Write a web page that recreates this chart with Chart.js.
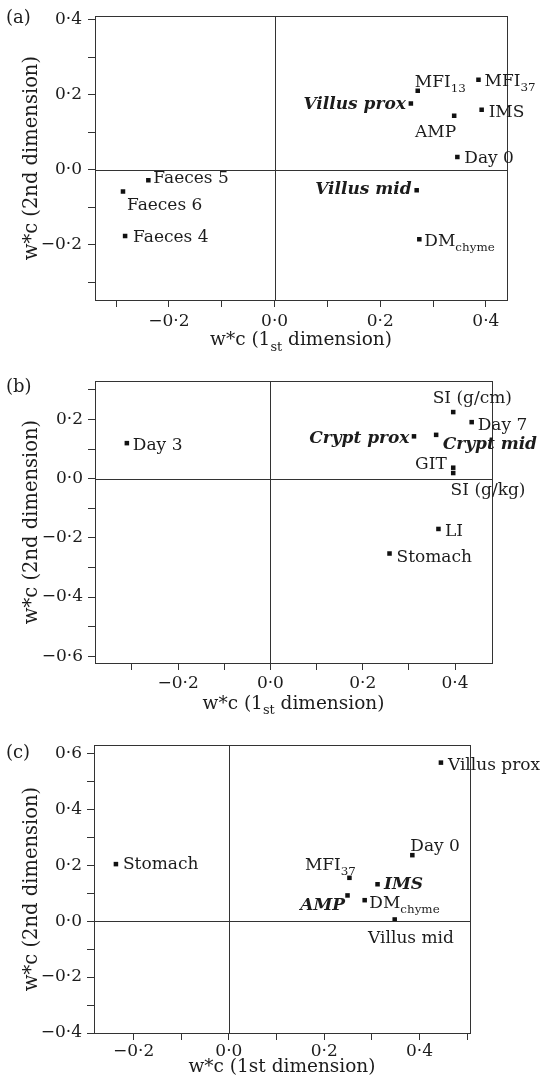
<!DOCTYPE html>
<html>
<head>
<meta charset="utf-8">
<script src="https://cdn.jsdelivr.net/npm/chart.js@4"></script>
<style>
body { margin: 0; background: #fff; }
#wrap { position: relative; width: 555px; height: 1080px; }
canvas { position: absolute; left: 0; }
</style>
</head>
<body>
<div id="wrap">
  <canvas id="panelA" width="555" height="360" style="top:0px"></canvas>
  <canvas id="panelB" width="555" height="360" style="top:360px"></canvas>
  <canvas id="panelC" width="555" height="360" style="top:720px"></canvas>
</div>
<script>
// Correspondence analysis plots, three panels

// Panel (a)
const aNames = ['MFI_{13}', 'MFI_{37}', 'Villus prox', 'IMS', 'AMP', 'Day 0', 'Villus mid', 'DM_{chyme}', 'Faeces 5', 'Faeces 6', 'Faeces 4'];
const aX = [0.271, 0.386, 0.258, 0.392, 0.340, 0.346, 0.269, 0.274, -0.239, -0.287, -0.283];
const aY = [0.211, 0.240, 0.177, 0.160, 0.144, 0.034, -0.055, -0.186, -0.028, -0.058, -0.177];
const aXTicks = [-0.3, -0.2, -0.1, 0, 0.1, 0.2, 0.3, 0.4];
const aXTickLabels = ['', '\u22120\u00b72', '', '0\u00b70', '', '0\u00b72', '', '0\u00b74'];
const aYTicks = [-0.3, -0.2, -0.1, 0, 0.1, 0.2, 0.3, 0.4];
const aYTickLabels = ['', '\u22120\u00b72', '', '0\u00b70', '', '0\u00b72', '', '0\u00b74'];

// Panel (b)
const bNames = ['Day 3', 'SI (g/cm)', 'Day 7', 'Crypt prox', 'Crypt mid', 'GIT', 'SI (g/kg)', 'LI', 'Stomach'];
const bX = [-0.311, 0.396, 0.436, 0.311, 0.359, 0.396, 0.396, 0.364, 0.258];
const bY = [0.120, 0.225, 0.191, 0.143, 0.148, 0.037, 0.019, -0.170, -0.253];
const bXTicks = [-0.3, -0.2, -0.1, 0, 0.1, 0.2, 0.3, 0.4];
const bXTickLabels = ['', '\u22120\u00b72', '', '0\u00b70', '', '0\u00b72', '', '0\u00b74'];
const bYTicks = [-0.6, -0.5, -0.4, -0.3, -0.2, -0.1, 0, 0.1, 0.2, 0.3];
const bYTickLabels = ['\u22120\u00b76', '', '\u22120\u00b74', '', '\u22120\u00b72', '', '0\u00b70', '', '0\u00b72', ''];

// Panel (c)
const cNames = ['Villus prox', 'Stomach', 'Day 0', 'MFI_{37}', 'IMS', 'AMP', 'DM_{chyme}', 'Villus mid'];
const cX = [0.445, -0.237, 0.385, 0.253, 0.312, 0.249, 0.285, 0.348];
const cY = [0.567, 0.204, 0.236, 0.155, 0.132, 0.092, 0.075, 0.006];
const cXTicks = [-0.2, -0.1, 0, 0.1, 0.2, 0.3, 0.4, 0.5];
const cXTickLabels = ['\u22120\u00b72', '', '0\u00b70', '', '0\u00b72', '', '0\u00b74', ''];
const cYTicks = [-0.4, -0.3, -0.2, -0.1, 0, 0.1, 0.2, 0.3, 0.4, 0.5, 0.6];
const cYTickLabels = ['\u22120\u00b74', '', '\u22120\u00b72', '', '0\u00b70', '', '0\u00b72', '', '0\u00b74', '', '0\u00b76'];

// label styles: bold italic flags and placement [align, dx, dy] from the marker
const aBold = [0, 0, 1, 0, 0, 0, 1, 0, 0, 0, 0];
const aPlace = [['left', -3, -4], ['left', 6, 6], ['right', -5, 6], ['left', 7, 7], ['right', 2, 21], ['left', 7, 6],
                ['right', -5, 4], ['left', 5, 7], ['left', 5, 3], ['left', 4, 19], ['left', 8, 6]];
const bBold = [0, 0, 0, 1, 1, 0, 0, 0, 0];
const bPlace = [['left', 6, 7], ['left', -20.5, -9], ['left', 6, 8], ['right', -4.5, 7], ['left', 6.5, 14],
                ['right', -6.5, 1], ['left', -2.6, 22], ['left', 6.5, 7], ['left', 7, 8]];
const cBold = [0, 0, 0, 0, 1, 1, 0, 0];
const cPlace = [['left', 7, 7], ['left', 7, 5], ['left', -2, -4], ['right', 6.5, -7.5], ['left', 6.5, 4.5],
                ['right', -2.5, 15], ['left', 4.6, 8], ['left', -26.6, 23.5]];

const FONT = 'DejaVu Serif';
const INK = '#1c1c1c';
const LINE = '#333';

// draw text with _{...} subscripts
function drawRich(ctx, text, x, y, align, size, bold) {
    const segs = text.split(/(_\{[^}]*\})/).filter(s => s).map(s =>
        s.startsWith('_{') ? { t: s.slice(2, -1), sub: true } : { t: s, sub: false });
    const style = bold ? 'italic bold ' : '';
    const fontFor = sub => style + (sub ? size * 0.7 : size) + 'px "' + FONT + '"';
    let w = 0;
    segs.forEach(s => {
        ctx.font = fontFor(s.sub);
        s.w = ctx.measureText(s.t).width;
        w += s.w;
    });
    let cx = align === 'right' ? x - w : align === 'center' ? x - w / 2 : x;
    ctx.textAlign = 'left';
    ctx.textBaseline = 'alphabetic';
    segs.forEach(s => {
        ctx.font = fontFor(s.sub);
        ctx.fillText(s.t, cx, y + (s.sub ? size * 0.3 : 0));
        cx += s.w;
    });
}

// frame, zero lines, point labels, x title and panel letter
function makeDecor(p) {
    return {
        id: 'decor',
        afterDraw(chart) {
            const ctx = chart.ctx;
            const area = chart.chartArea;
            const xs = chart.scales.x;
            const ys = chart.scales.y;
            ctx.save();
            ctx.strokeStyle = LINE;
            ctx.lineWidth = 1;
            ctx.strokeRect(Math.round(area.left) + 0.5, Math.round(area.top) + 0.5,
                Math.round(area.right - area.left), Math.round(area.bottom - area.top));
            const x0 = Math.round(xs.getPixelForValue(0)) + 0.5;
            const y0 = Math.round(ys.getPixelForValue(0)) + 0.5;
            ctx.beginPath();
            ctx.moveTo(x0, area.top);
            ctx.lineTo(x0, area.bottom);
            ctx.moveTo(area.left, y0);
            ctx.lineTo(area.right, y0);
            ctx.stroke();

            ctx.fillStyle = INK;
            p.names.forEach((name, i) => {
                const px = xs.getPixelForValue(p.x[i]);
                const py = ys.getPixelForValue(p.y[i]);
                const pl = p.place[i];
                drawRich(ctx, name, px + pl[1], py + pl[2], pl[0], 17, p.bold[i]);
            });

            drawRich(ctx, p.xTitle, (area.left + area.right) / 2, area.bottom + p.xTitleDy, 'center', 18.5, false);

            ctx.font = '18px "' + FONT + '"';
            ctx.textAlign = 'left';
            ctx.textBaseline = 'middle';
            ctx.fillText(p.letter, 6, p.letterY);
            ctx.restore();
        }
    };
}

function makePanel(p) {
    const points = p.x.map((v, i) => ({ x: v, y: p.y[i] }));
    return new Chart(document.getElementById(p.id), {
        type: 'scatter',
        data: {
            datasets: [{
                data: points,
                pointStyle: 'rect',
                pointRadius: 3.2,
                pointBackgroundColor: '#111',
                pointBorderWidth: 0
            }]
        },
        options: {
            responsive: false,
            animation: false,
            events: [],
            layout: { padding: { top: p.box.top, right: 555 - p.box.right, left: 0, bottom: 0 } },
            plugins: { legend: { display: false }, tooltip: { enabled: false } },
            scales: {
                x: {
                    type: 'linear',
                    min: p.xRange[0],
                    max: p.xRange[1],
                    afterBuildTicks: s => { s.ticks = p.xTicks.map(v => ({ value: v })); },
                    afterFit: s => { s.height = 360 - p.box.bottom; },
                    ticks: {
                        autoSkip: false,
                        maxRotation: 0,
                        padding: p.xTickPad,
                        color: INK,
                        font: { family: FONT, size: 17 },
                        callback: (v, i) => p.xTickLabels[i]
                    },
                    grid: { drawOnChartArea: false, tickLength: 7, color: LINE },
                    border: { display: false }
                },
                y: {
                    type: 'linear',
                    min: p.yRange[0],
                    max: p.yRange[1],
                    afterBuildTicks: s => { s.ticks = p.yTicks.map(v => ({ value: v })); },
                    afterFit: s => { s.width = p.box.left; },
                    ticks: {
                        autoSkip: false,
                        padding: p.yTickPad,
                        color: INK,
                        font: { family: FONT, size: 17 },
                        callback: (v, i) => p.yTickLabels[i]
                    },
                    grid: { drawOnChartArea: false, tickLength: 7, color: LINE },
                    border: { display: false },
                    title: {
                        display: true,
                        text: 'w*c (2nd dimension)',
                        color: INK,
                        font: { family: FONT, size: 19.5 },
                        padding: { top: 20, bottom: 0 }
                    }
                }
            }
        },
        plugins: [makeDecor(p)]
    });
}

makePanel({
    id: 'panelA', letter: '(a)', letterY: 18,
    names: aNames, x: aX, y: aY, bold: aBold, place: aPlace,
    xTicks: aXTicks, xTickLabels: aXTickLabels, yTicks: aYTicks, yTickLabels: aYTickLabels,
    xRange: [-0.34, 0.44], yRange: [-0.348, 0.41],
    box: { left: 95, right: 507, top: 15, bottom: 300 },
    xTickPad: 4.5, yTickPad: 6, xTitle: 'w*c (1_{st} dimension)', xTitleDy: 45
});

makePanel({
    id: 'panelB', letter: '(b)', letterY: 27,
    names: bNames, x: bX, y: bY, bold: bBold, place: bPlace,
    xTicks: bXTicks, xTickLabels: bXTickLabels, yTicks: bYTicks, yTickLabels: bYTickLabels,
    xRange: [-0.38, 0.48], yRange: [-0.623, 0.33],
    box: { left: 95, right: 492, top: 21, bottom: 303 },
    xTickPad: 3.5, yTickPad: 5, xTitle: 'w*c (1_{st} dimension)', xTitleDy: 45.5
});

makePanel({
    id: 'panelC', letter: '(c)', letterY: 33,
    names: cNames, x: cX, y: cY, bold: cBold, place: cPlace,
    xTicks: cXTicks, xTickLabels: cXTickLabels, yTicks: cYTicks, yTickLabels: cYTickLabels,
    xRange: [-0.283, 0.506], yRange: [-0.4, 0.63],
    box: { left: 94, right: 470, top: 25, bottom: 313 },
    xTickPad: 1.5, yTickPad: 5, xTitle: 'w*c (1st dimension)', xTitleDy: 38.5
});
</script>
</body>
</html>
